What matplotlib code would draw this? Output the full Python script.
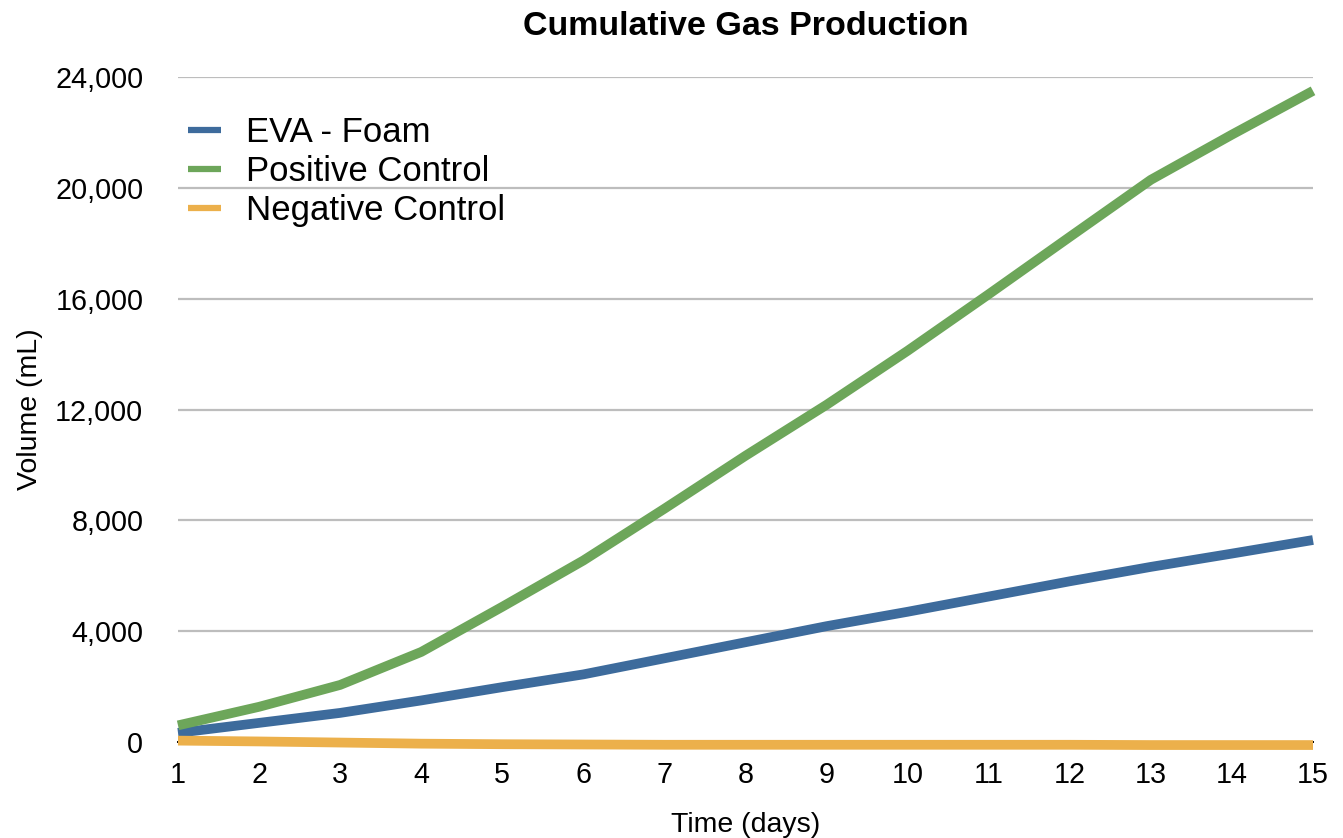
import matplotlib
matplotlib.use("Agg")
import matplotlib.pyplot as plt
from matplotlib.lines import Line2D
from matplotlib.ticker import FuncFormatter

plt.rcParams['font.family'] = ['Liberation Sans', 'DejaVu Sans']

# data
days = list(range(1, 16))
eva_foam = [330, 690, 1050, 1500, 1980, 2440, 3020, 3600, 4180, 4700,
            5250, 5800, 6320, 6800, 7290]
positive_control = [600, 1270, 2060, 3250, 4880, 6550, 8420, 10330, 12170, 14120,
                    16160, 18230, 20290, 21920, 23500]
negative_control = [50, 20, -20, -60, -80, -90, -100, -100, -100, -100,
                    -100, -100, -110, -110, -110]
series_names = ['EVA - Foam', 'Positive Control', 'Negative Control']
series_colors = ['#3d6b9c', '#6da65a', '#ecb04b']
y_ticks = [0, 4000, 8000, 12000, 16000, 20000, 24000]

W, H = 1343, 838
fig = plt.figure(figsize=(W / 100, H / 100), dpi=100)
ax = fig.add_axes([178 / W, 1 - 742 / H, (1313 - 178) / W, (742 - 77) / H])

ax.set_xlim(1, 15)
ax.set_ylim(0, 24000)
ax.set_xticks(days)
ax.set_yticks(y_ticks)
ax.yaxis.set_major_formatter(FuncFormatter(lambda v, p: f'{int(v):,}'))

for yv in y_ticks[1:]:
    ax.axhline(yv, color='#bdbdbd', lw=1.6, zorder=1)

for s in ['left', 'right', 'top']:
    ax.spines[s].set_visible(False)
ax.spines['bottom'].set_color('black')
ax.spines['bottom'].set_linewidth(1.4)
ax.spines['bottom'].set_zorder(2)

for vals, col in zip([eva_foam, positive_control, negative_control], series_colors):
    ax.plot(days, vals, color=col, lw=7, solid_capstyle='butt',
            solid_joinstyle='round', clip_on=False, zorder=3)

ax.tick_params(axis='both', length=0, labelsize=20.7)
ax.tick_params(axis='y', pad=25)
ax.tick_params(axis='x', pad=14)

ax.set_title('Cumulative Gas Production', fontsize=24.5, fontweight='bold', pad=30)
ax.set_xlabel('Time (days)', fontsize=20.5, labelpad=16)
ax.set_ylabel('Volume (mL)', fontsize=20.5, labelpad=9)

handles = [Line2D([], [], color=c, lw=4.5, solid_capstyle='butt') for c in series_colors]
ax.legend(handles, series_names, loc='upper left',
          bbox_to_anchor=(188 / W, 1 - 116 / H), bbox_transform=fig.transFigure,
          frameon=False, fontsize=25, handlelength=0.95, handletextpad=0.72,
          labelspacing=0.17, borderpad=0, borderaxespad=0)

fig.savefig('out.png', dpi=100)
